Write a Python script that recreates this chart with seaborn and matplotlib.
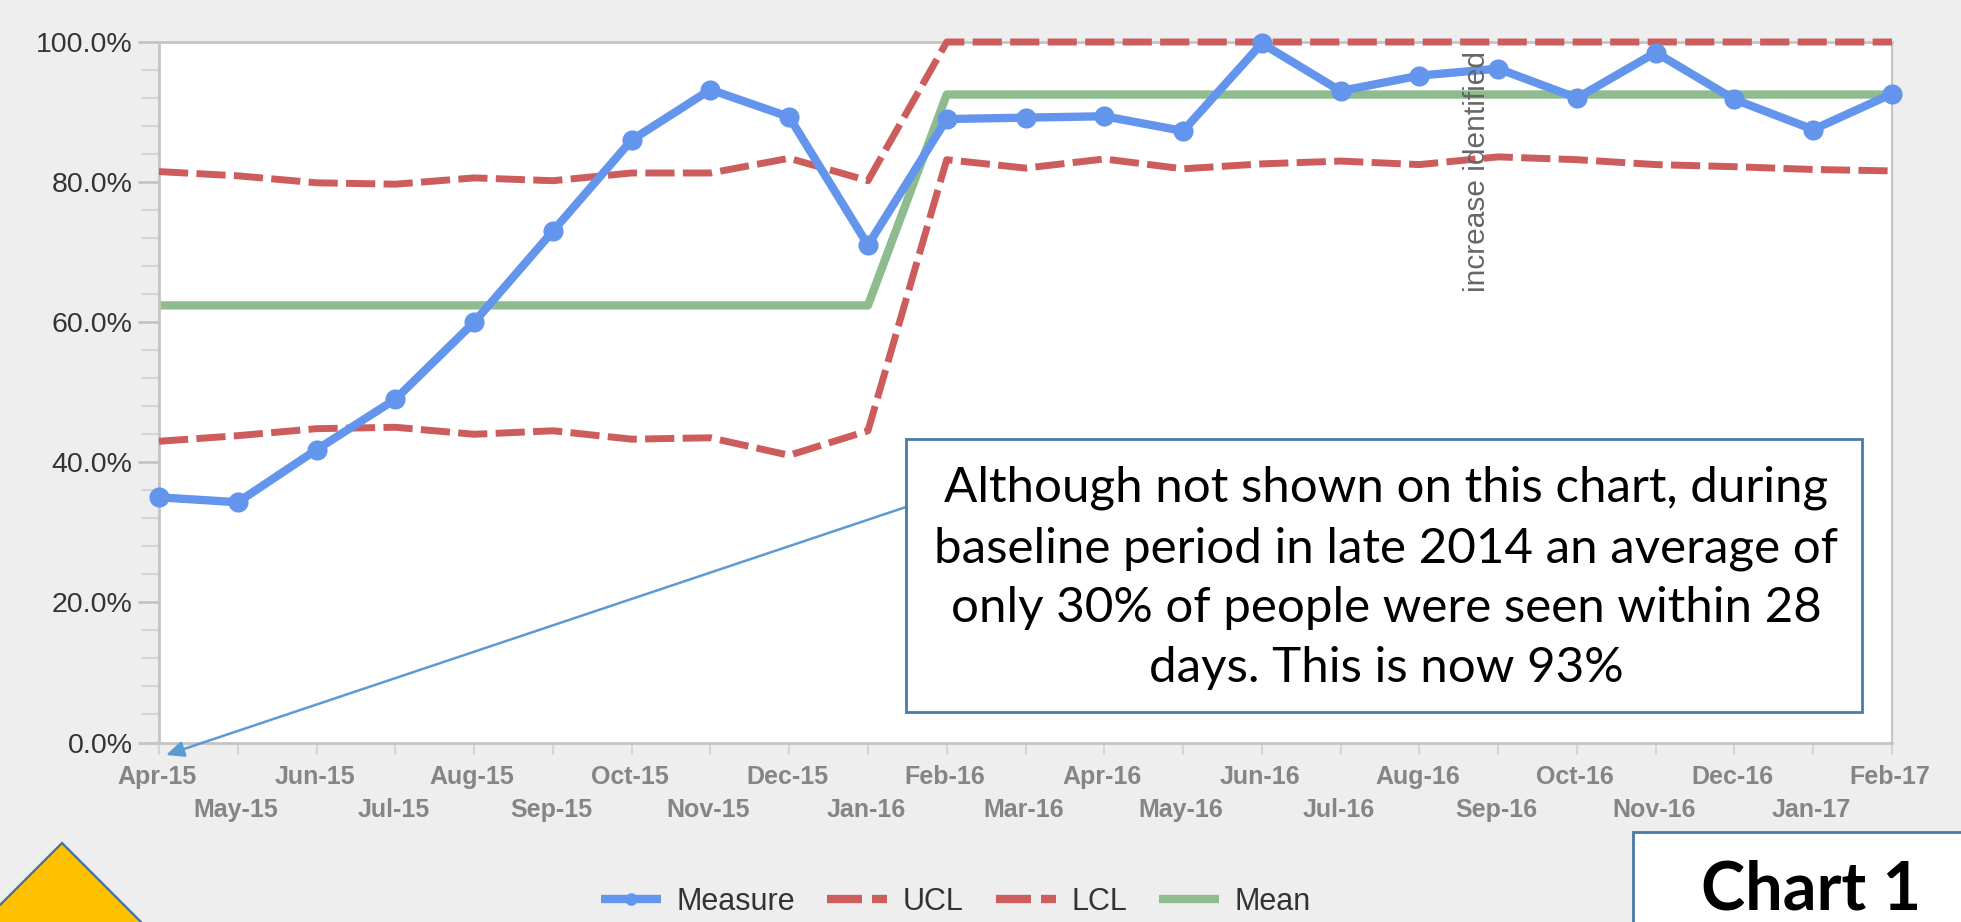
import matplotlib
matplotlib.use("Agg")
import matplotlib.pyplot as plt
from matplotlib.patches import Polygon, Rectangle
import pandas as pd
import seaborn as sns

months = ["Apr-15","May-15","Jun-15","Jul-15","Aug-15","Sep-15","Oct-15","Nov-15","Dec-15","Jan-16",
          "Feb-16","Mar-16","Apr-16","May-16","Jun-16","Jul-16","Aug-16","Sep-16","Oct-16","Nov-16",
          "Dec-16","Jan-17","Feb-17"]
measure = [35.0,34.3,41.8,49.0,60.0,73.0,86.0,93.2,89.3,71.0,89.0,89.2,89.4,87.3,99.8,93.0,95.2,96.2,92.0,98.5,91.8,87.5,92.6]
ucl = [81.5,80.9,79.9,79.7,80.6,80.2,81.3,81.3,83.4,80.2,100,100,100,100,100,100,100,100,100,100,100,100,100]
lcl = [43.0,43.8,44.8,45.0,44.0,44.5,43.3,43.5,41.0,44.5,83.2,82.0,83.3,81.9,82.6,83.0,82.5,83.6,83.2,82.5,82.2,81.8,81.6]
mean = [62.4]*10 + [92.5]*13
y_ticks = [0, 20, 40, 60, 80, 100]
y_tick_labels = ["0.0%", "20.0%", "40.0%", "60.0%", "80.0%", "100.0%"]
callout = "Although not shown on this chart, during\nbaseline period in late 2014 an average of\nonly 30% of people were seen within 28\ndays. This is now 93%"

W, H = 1961, 922
BG = "#eeeeee"
sns.set_theme(style="white")
plt.rcParams["font.family"] = ["Liberation Sans", "DejaVu Sans"]
plt.rcParams["lines.solid_capstyle"] = "butt"

fig = plt.figure(figsize=(W/100, H/100), dpi=100, facecolor=BG)
ax = fig.add_axes([159/W, 1-742.5/H, (1892-159)/W, (742.5-42)/H])
ax.set_facecolor("white")

df = pd.DataFrame({"i": range(len(months)), "Measure": measure, "UCL": ucl, "LCL": lcl, "Mean": mean})
BLUE, RED, GREEN = "#6495ed", "#cd5c5c", "#8fbc8f"
sns.lineplot(data=df, x="i", y="Mean", ax=ax, color=GREEN, lw=6, clip_on=False, zorder=2, label="Mean")
dash = (4.2, 1.2)
sns.lineplot(data=df, x="i", y="UCL", ax=ax, color=RED, lw=5, clip_on=False, zorder=3, label="UCL").lines[-1].set_dashes(dash)
sns.lineplot(data=df, x="i", y="LCL", ax=ax, color=RED, lw=5, clip_on=False, zorder=3, label="LCL").lines[-1].set_dashes(dash)
sns.lineplot(data=df, x="i", y="Measure", ax=ax, color=BLUE, lw=6, marker="o", markersize=14.5,
             markeredgewidth=0, clip_on=False, zorder=4, label="Measure")

ax.set_xlim(0, len(months)-1)
ax.set_ylim(0, 100)
ax.set_xlabel(""); ax.set_ylabel("")
GR = "#c4c4c4"
for s in ax.spines.values():
    s.set_color(GR); s.set_linewidth(2)
ax.spines["right"].set_linewidth(1.5)

ax.set_yticks(y_ticks, y_tick_labels, fontsize=20.5, color="#333333")
ax.set_yticks(range(0, 101, 4), minor=True)
ax.tick_params(axis="y", which="major", length=15, width=2, color=GR, pad=4, left=True)
ax.tick_params(axis="y", which="minor", length=13, width=1.5, color="#d5d5d5", left=True)

ax.set_xticks(range(len(months)))
ax.set_xticklabels([])
ax.tick_params(axis="x", which="major", length=8.5, width=1.5, color="#d5d5d5", bottom=True)
for i, m in enumerate(months):
    ax.annotate(m, xy=(i, 0), xycoords=("data", "axes fraction"),
                xytext=(-2, -22 if i % 2 == 0 else -55), textcoords="offset pixels",
                ha="center", va="top", fontsize=18, color="#858585", fontweight="bold", annotation_clip=False)

ax.text(16.73, 64.3, "increase identified", rotation=90, fontsize=21.5, color="#666666",
        ha="center", va="bottom", zorder=5)

def fx(x): return x/W
def fy(y): return 1-y/H

# Callout box
fig.add_artist(Rectangle((fx(906), fy(712)), 956/W, 273/H, transform=fig.transFigure,
                         fc="white", ec="#4a7ba8", lw=2, zorder=6))
fig.text(fx(1386), fy(578), callout, fontsize=35.5, color="black", ha="center", va="center",
         family=["Lato", "DejaVu Sans"], linespacing=1.44, zorder=7)
# Arrow
ax.annotate("", xy=(fx(166), fy(755)), xytext=(fx(906), fy(507)),
            xycoords="figure fraction", textcoords="figure fraction", annotation_clip=False,
            arrowprops=dict(arrowstyle="-|>,head_length=0.9,head_width=0.4", color="#5b9bd5", lw=1.8,
                            shrinkA=0, shrinkB=0), zorder=6)
# Triangle
fig.add_artist(Polygon([(fx(-55), fy(960)), (fx(62), fy(843)), (fx(179), fy(960))], closed=True,
                       transform=fig.transFigure, fc="#ffc000", ec="#41719c", lw=1.6))
# Chart label box
fig.add_artist(Rectangle((fx(1633), fy(960)), 340/W, 128/H, transform=fig.transFigure,
                         fc="white", ec="#4a7ba8", lw=2))
fig.text(fx(1811), fy(890), "Chart 1", fontsize=48, fontweight="bold", color="black", ha="center", va="center",
         family=["Lato", "DejaVu Sans"])

# Legend
handles, labels = ax.get_legend_handles_labels()
order = [labels.index(k) for k in ["Measure", "UCL", "LCL", "Mean"]]
ax.get_legend().remove()
leg = fig.legend([handles[i] for i in order], [labels[i] for i in order], loc="center",
                 bbox_to_anchor=(956/W, fy(902)), ncol=4, frameon=False, fontsize=22, handlelength=1.97,
                 columnspacing=1.05, handletextpad=0.5, labelcolor="#333333")
for h in leg.legend_handles:
    if h.get_marker() == "o":
        h.set_markersize(9)
    h.set_linewidth(6)

fig.savefig("out.png", dpi=100, facecolor=BG)
